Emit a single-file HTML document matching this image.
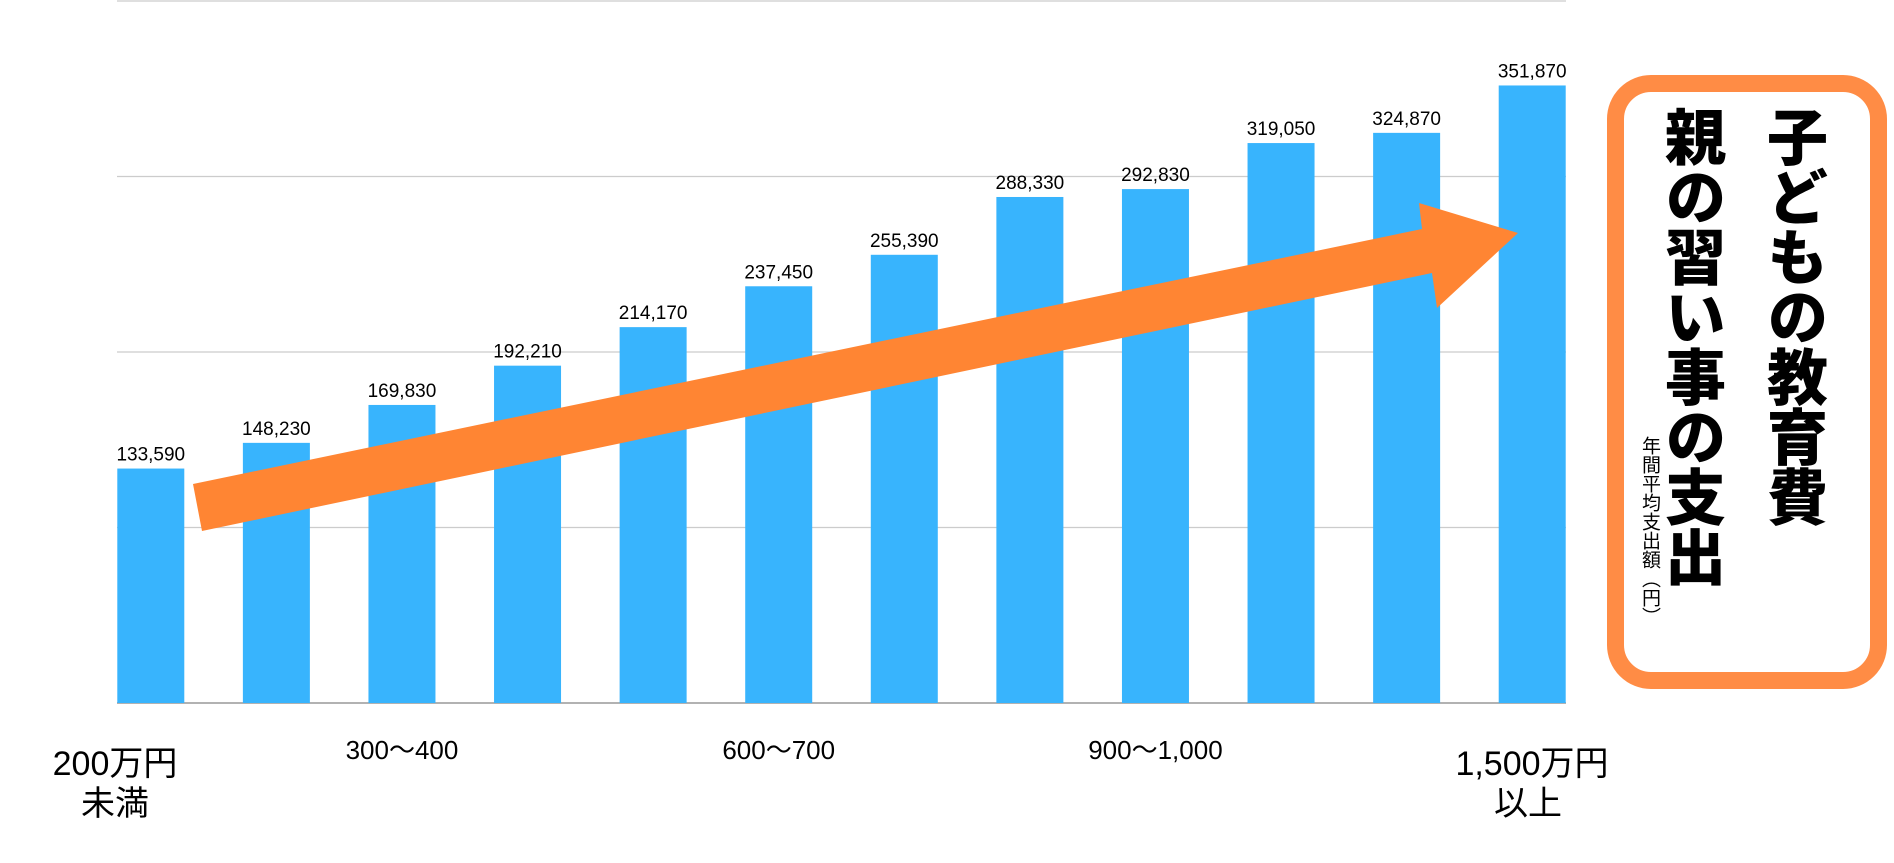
<!DOCTYPE html>
<html><head><meta charset="utf-8">
<style>
html,body{margin:0;padding:0;background:#fff;}
body{width:1894px;height:863px;position:relative;overflow:hidden;font-family:"Liberation Sans","Noto Sans CJK JP",sans-serif;}
svg{position:absolute;left:0;top:0;}
#box{position:absolute;left:1607px;top:75px;width:246px;height:580px;border:17px solid #FF8C45;border-radius:44px;background:#fff;}
.vt{position:absolute;writing-mode:vertical-rl;font-family:"Noto Sans CJK JP",sans-serif;color:#000;}
</style></head>
<body>
<svg id="chart" width="1894" height="863"></svg>
<div id="box"></div>
<div class="vt" style="left:1766px;top:106px;font-size:61px;font-weight:900;line-height:62px;letter-spacing:-1px;">子どもの教育費</div>
<div class="vt" style="left:1664px;top:106px;font-size:61px;font-weight:900;line-height:62px;letter-spacing:-1px;">親の習い事の支出</div>
<div class="vt" style="left:1640px;top:436px;font-size:19px;line-height:22px;">年間平均支出額（円）</div>
<script>
const categories=["200万円未満","200〜300","300〜400","400〜500","500〜600","600〜700","700〜800","800〜900","900〜1,000","1,000〜1,250","1,250〜1,500","1,500万円以上"];
const values=[133590,148230,169830,192210,214170,237450,255390,288330,292830,319050,324870,351870];
const yTicks=[0,100000,200000,300000,400000];
const xLabelIdx=[2,5,8];
const NS="http://www.w3.org/2000/svg";
const svg=document.getElementById('chart');
const plotL=88,plotR=1595,base=703,plotTop=1,yMax=400000;
const band=(plotR-plotL)/categories.length,bw=67;
function y(v){return base-(v/yMax)*(base-plotTop);}
function xc(i){return plotL+band*(i+0.5);}
function mk(t,a){const e=document.createElementNS(NS,t);for(const k in a)e.setAttribute(k,a[k]);svg.appendChild(e);return e;}
yTicks.forEach((t,i)=>{
 const g=mk('line',{x1:117,x2:1566,y1:y(t),y2:y(t),stroke:i==0?'#999':'#ccc','stroke-width':i==0?1.5:1.2});
 
 
});
values.forEach((v,i)=>{
 const r=mk('rect',{x:xc(i)-bw/2,y:y(v),width:bw,height:base-y(v),fill:'#38B4FD'});
 
 
 const t=mk('text',{x:xc(i),y:y(v)-8,'text-anchor':'middle','font-size':19,fill:'#000','font-family':'"Liberation Sans Narrow","Liberation Sans",sans-serif'});
 t.textContent=v.toLocaleString('en-US');
 
 
});
xLabelIdx.forEach(i=>{
 const t=mk('text',{x:xc(i),y:759,'text-anchor':'middle','font-size':26,fill:'#000'});
 t.textContent=categories[i];
 
 
});
[[115,775,"200万円"],[115,815,"未満"],[1532,775,"1,500万円"],[1528,815,"以上"]].forEach(d=>{
 const t=mk('text',{x:d[0],y:d[1],'text-anchor':'middle','font-size':34,fill:'#000','font-family':'"Liberation Sans","Noto Sans CJK JP",sans-serif'});
 t.textContent=d[2];
 
 
});
const arr=mk('polygon',{points:'193,484 1422,229 1419,203 1518,233 1437,308 1432,273 202,531',fill:'#FF8533'});


</script>
</body></html>
